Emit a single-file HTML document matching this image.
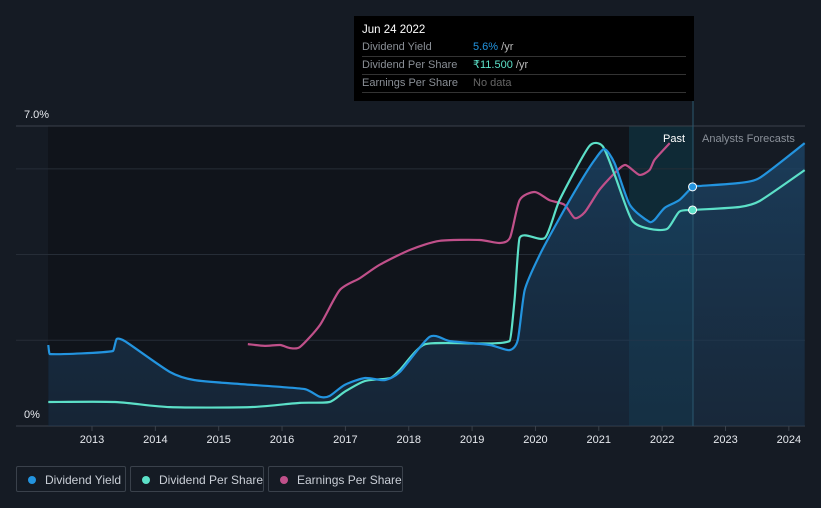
<!DOCTYPE html>
<html><head><meta charset="utf-8"><style>
body{margin:0;background:#151b24;font-family:"Liberation Sans",sans-serif;}
#wrap{position:relative;width:821px;height:508px;overflow:hidden;background:#151b24}
.leg{position:absolute;top:466px;height:26px;border:1px solid #3a414b;border-radius:2px;color:#c9ced6;font-size:12px;line-height:26px;box-sizing:border-box;white-space:nowrap}
.leg i{position:absolute;left:11px;top:9px;width:8px;height:8px;border-radius:50%}
.leg span{position:absolute;left:28px}
#tip{position:absolute;left:354px;top:16px;width:340px;height:85px;background:#000;color:#8a8f96;font-size:11px}
#tip .r{position:absolute;left:8px;right:8px;height:18px;border-bottom:1px solid #333;line-height:18px}
</style></head><body>
<div id="wrap">
<svg id="svg" width="821" height="508" style="position:absolute;left:0;top:0">
<defs><linearGradient id="g" x1="0" y1="0" x2="0" y2="1"><stop offset="0" stop-color="#1c4a70" stop-opacity="0.7"/><stop offset="1" stop-color="#1b3550" stop-opacity="0.5"/></linearGradient></defs>
<rect x="48" y="126" width="645" height="300" fill="#10141b"/>
<rect x="629" y="126" width="64" height="300" fill="#0f2a36"/>
<g id="grid"></g>
<path id="area" fill="url(#g)"/>
<line x1="693" y1="101" x2="693" y2="426" stroke="#2a5870" stroke-width="1"/>
<g id="lines"></g>
<text x="24" y="118" fill="#e6e9ee" font-size="11">7.0%</text>
<text x="24" y="418" fill="#e6e9ee" font-size="11">0%</text>
<text x="685" y="142" fill="#ffffff" font-size="11" text-anchor="end">Past</text>
<text x="702" y="142" fill="#8a9099" font-size="11">Analysts Forecasts</text>
<g id="xt"></g>
</svg>
<div id="tip">
<div style="position:absolute;left:8px;top:8px;color:#fff;font-size:11.5px">Jun 24 2022</div>
<div class="r" style="top:22px">Dividend Yield<span style="position:absolute;left:111px"><b style="font-weight:normal;color:#2394df">5.6%</b> <span style="color:#bbb">/yr</span></span></div>
<div class="r" style="top:40px">Dividend Per Share<span style="position:absolute;left:111px"><b style="font-weight:normal;color:#5ce0c8">₹11.500</b> <span style="color:#bbb">/yr</span></span></div>
<div class="r" style="top:58px">Earnings Per Share<span style="position:absolute;left:111px;color:#666">No data</span></div>
</div>
<div class="leg" style="left:16px;width:110px"><i style="background:#2394df"></i><span>Dividend Yield</span></div>
<div class="leg" style="left:130px;width:134px"><i style="background:#5ce0c8"></i><span>Dividend Per Share</span></div>
<div class="leg" style="left:268px;width:135px"><i style="background:#c0508a"></i><span>Earnings Per Share</span></div>
</div>
<script>
const yieldYears=[2012.31,2012.33,2013.33,2013.39,2013.52,2014.23,2014.62,2015.33,2016.36,2016.6,2016.75,2016.99,2017.31,2017.62,2017.86,2018.33,2018.65,2019.28,2019.59,2019.72,2019.83,2020.07,2020.38,2020.7,2020.93,2021.09,2021.25,2021.49,2021.8,2021.88,2022.04,2022.27,2022.48,2022.59,2023.22,2023.54,2024.25];
const yieldVals=[1.89,1.68,1.75,2.03,1.98,1.26,1.07,0.98,0.86,0.68,0.7,0.96,1.12,1.07,1.26,2.08,1.98,1.89,1.77,2.0,3.17,4.0,4.85,5.67,6.2,6.46,6.13,5.16,4.76,4.81,5.09,5.27,5.58,5.6,5.67,5.79,6.6];
const dpsYears=[2012.31,2013.36,2014.23,2015.5,2016.28,2016.75,2016.99,2017.31,2017.71,2017.86,2018.26,2019.59,2019.67,2019.75,2020.15,2020.38,2020.85,2021.06,2021.25,2021.52,2021.8,2022.08,2022.27,2022.48,2023.22,2023.54,2024.25];
const dpsVals=[0.56,0.56,0.44,0.44,0.54,0.56,0.8,1.05,1.12,1.31,1.91,1.98,2.94,4.39,4.39,5.27,6.53,6.53,5.86,4.81,4.6,4.6,5.0,5.04,5.11,5.25,5.97];
const epsYears=[2015.46,2015.73,2015.97,2016.12,2016.28,2016.6,2016.91,2017.23,2017.54,2018.02,2018.49,2019.12,2019.44,2019.6,2019.75,2019.99,2020.22,2020.46,2020.62,2020.78,2021.01,2021.25,2021.42,2021.64,2021.8,2021.88,2022.12];
const epsVals=[1.91,1.87,1.89,1.82,1.84,2.36,3.17,3.45,3.76,4.11,4.32,4.34,4.27,4.4,5.27,5.46,5.27,5.16,4.85,4.99,5.51,5.9,6.09,5.86,5.97,6.21,6.6];
const xTicks=[2013,2014,2015,2016,2017,2018,2019,2020,2021,2022,2023,2024];
const yGrid=[2,4,6,7];
const X=y=>92+(y-2013)*63.35, Y=v=>426-v*42.86;
const NS='http://www.w3.org/2000/svg';
function mk(t,a,p){const e=document.createElementNS(NS,t);for(const k in a)e.setAttribute(k,a[k]);p.appendChild(e);return e;}
function smooth(xs,vs){const P=xs.map((x,i)=>[X(x),Y(vs[i])]);let d='M'+P[0][0]+','+P[0][1];
for(let i=0;i<P.length-1;i++){const p0=P[i-1]||P[i],p1=P[i],p2=P[i+1],p3=P[i+2]||p2;
const dx=p2[0]-p1[0];
const t1=Math.min(0.12,dx/Math.max(1,Math.abs(p2[0]-p0[0]))*0.3), t2=Math.min(0.12,dx/Math.max(1,Math.abs(p3[0]-p1[0]))*0.3);
d+=' C'+(p1[0]+(p2[0]-p0[0])*t1)+','+(p1[1]+(p2[1]-p0[1])*t1)+' '+(p2[0]-(p3[0]-p1[0])*t2)+','+(p2[1]-(p3[1]-p1[1])*t2)+' '+p2[0]+','+p2[1];}return d;}
const grid=document.getElementById('grid');
yGrid.forEach(v=>{const l=mk('line',{x1:16,x2:805,y1:Y(v),y2:Y(v),stroke:v==7?'#3a414b':'#262d37','stroke-width':1},grid);

});
const ax=mk('line',{x1:16,x2:805,y1:426,y2:426,stroke:'#3a414b'},grid);


const yd=smooth(yieldYears,yieldVals);
document.getElementById('area').setAttribute('d',yd+' L'+X(yieldYears[yieldYears.length-1])+',426 L'+X(yieldYears[0])+',426 Z');
const lines=document.getElementById('lines');
[[epsYears,epsVals,'#c0508a','eps-line'],[dpsYears,dpsVals,'#5ce0c8','dps-line'],[yieldYears,yieldVals,'#2394df','yield-line']].forEach(s=>{
const p=mk('path',{d:smooth(s[0],s[1]),fill:'none',stroke:s[2],'stroke-width':2.2,'stroke-linejoin':'round'},lines);

});
[[yieldYears,yieldVals,'#2394df'],[dpsYears,dpsVals,'#5ce0c8']].forEach(s=>{const i=s[0].indexOf(2022.48);
const c=mk('circle',{cx:X(s[0][i]),cy:Y(s[1][i]),r:4,fill:s[2],stroke:'#fff','stroke-width':1},lines);

});
const xt=document.getElementById('xt');
xTicks.forEach(y=>{mk('line',{x1:X(y),x2:X(y),y1:426,y2:431,stroke:'#3a414b'},xt);
const t=mk('text',{x:X(y),y:443,fill:'#e6e9ee','font-size':11,'text-anchor':'middle'},xt);t.textContent=y;

});
</script>
</body></html>
